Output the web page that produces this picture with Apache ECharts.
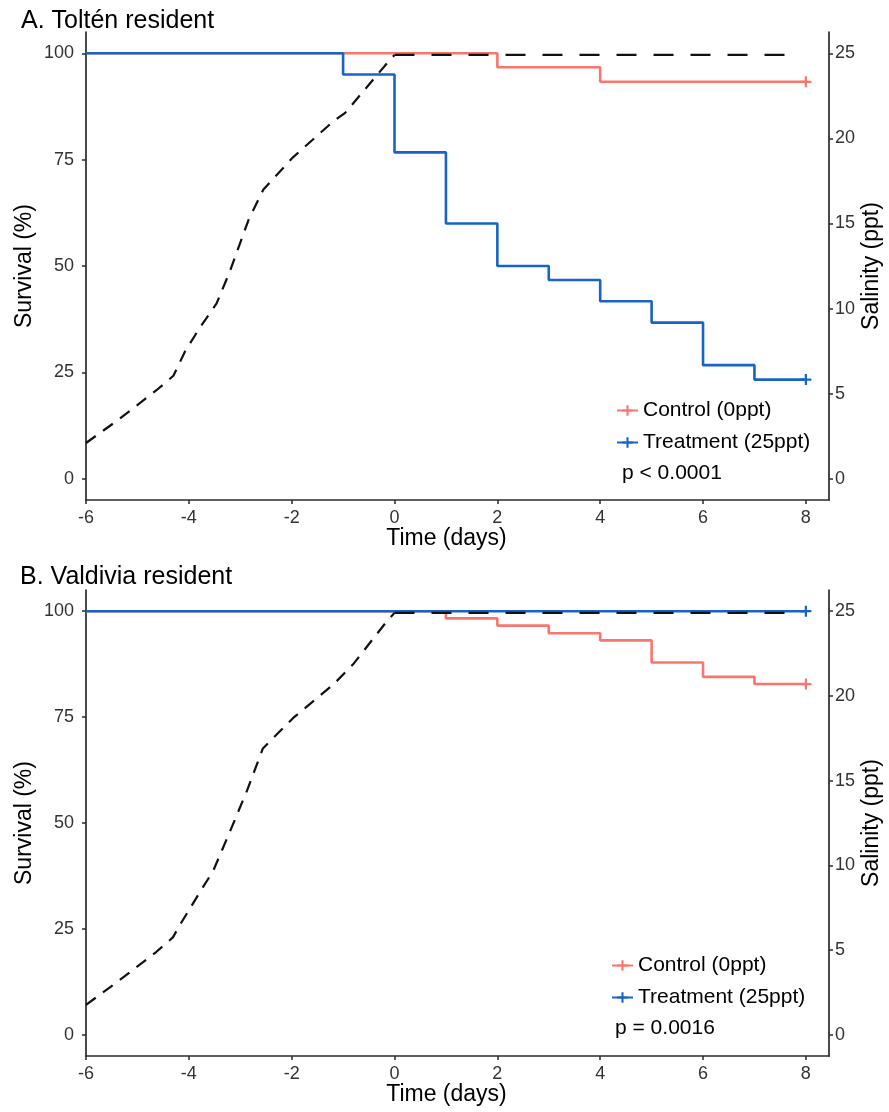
<!DOCTYPE html>
<html>
<head>
<meta charset="utf-8">
<script src="https://cdn.jsdelivr.net/npm/echarts@6/dist/echarts.min.js"></script>
<style>
  html, body { margin: 0; padding: 0; background: #fff; }
  #chart { width: 889px; height: 1112px; }
</style>
</head>
<body>
<div id="chart"></div>
<script>
// ---------- data ----------
const xTicks = [-6, -4, -2, 0, 2, 4, 6, 8];
const survivalTicks = [0, 25, 50, 75, 100];
const salinityTicks = [0, 5, 10, 15, 20, 25];

// Panel A: Toltén resident (Kaplan-Meier steps)
const timeA_control = [-6, 2, 4, 8];
const survA_control = [100, 96.7, 93.3, 93.3];
const timeA_treat = [-6, -1, 0, 1, 2, 3, 4, 5, 6, 7, 8];
const survA_treat = [100, 95, 76.7, 60, 50, 46.7, 41.7, 36.7, 26.7, 23.3, 23.3];

// Panel B: Valdivia resident
const timeB_control = [-6, 1, 2, 3, 4, 5, 6, 7, 8];
const survB_control = [100, 98.3, 96.6, 94.8, 93.1, 87.9, 84.5, 82.8, 82.8];
const timeB_treat = [-6, 8];
const survB_treat = [100, 100];

// Salinity (ppt) curves
const salTimeA = [-6, -5.4, -4.63, -4.3, -4.07, -3.78, -3.46, -3.2, -2.84, -2.55, -1.97, -1.19, -0.96, -0.54, -0.15, 0, 7.9];
const salA     = [2.1, 3.4, 5.2, 6.05, 7.5, 8.9, 10.3, 12.2, 15.2, 17.0, 18.9, 21.0, 21.5, 23.0, 24.4, 24.9, 24.9];
const salTimeB = [-6, -5.4, -4.63, -4.31, -4.17, -3.78, -3.53, -3.2, -2.87, -2.56, -1.97, -1.18, -0.81, -0.15, 0, 7.9];
const salB     = [1.77, 3.1, 4.9, 5.75, 6.5, 8.45, 9.65, 12.0, 14.4, 16.9, 18.7, 20.7, 21.85, 24.4, 24.9, 24.9];

const panelTitles = ['A. Toltén resident', 'B. Valdivia resident'];
const pValues = ['p < 0.0001', 'p = 0.0016'];
const seriesNames = ['Control (0ppt)', 'Treatment (25ppt)'];

// ---------- style ----------
const FONT = '"Liberation Sans", Arial, Helvetica, sans-serif';
const RED = '#F8766D';
const BLUE = '#1763C6';
const AXIS = '#2b2b2b';
const PLUS = 'path://M4,0 H6 V4 H10 V6 H6 V10 H4 V6 H0 V4 H4 Z';

function kmData(t, s) {
  return t.map((x, i) => i === t.length - 1
    ? { value: [x, s[i]], symbolSize: 11 }
    : { value: [x, s[i]] });
}
function pairs(t, s, filterFn) {
  const out = [];
  t.forEach((x, i) => { if (filterFn(x)) out.push([x, s[i]]); });
  return out;
}

const grids = [
  { left: 86, width: 743, top: 32, height: 468, containLabel: false, outerBoundsMode: 'none' },
  { left: 86, width: 743, top: 590, height: 466, containLabel: false, outerBoundsMode: 'none' }
];

const xAxes = [], yAxes = [], series = [];
grids.forEach((g, gi) => {
  xAxes.push({
    type: 'value', gridIndex: gi, min: -6, max: 8.45,
    name: 'Time (days)', nameLocation: 'middle', nameGap: 27, nameMoveOverlap: false,
    nameTextStyle: { fontSize: 23, color: '#000', fontFamily: FONT, padding: [0, 22, 0, 0] },
    axisLine: { onZero: false, lineStyle: { color: AXIS, width: 1.7 } },
    axisTick: { show: true, length: 4, customValues: xTicks, lineStyle: { color: AXIS, width: 1.5 } },
    axisLabel: { customValues: xTicks, fontSize: 18, color: '#333', fontFamily: FONT, margin: 9 },
    splitLine: { show: false }
  });
  yAxes.push({
    type: 'value', gridIndex: gi, position: 'left', min: -5, max: 105,
    name: 'Survival (%)', nameLocation: 'middle', nameGap: 50, nameMoveOverlap: false,
    nameTextStyle: { fontSize: 23, color: '#000', fontFamily: FONT },
    axisLine: { show: true, onZero: false, lineStyle: { color: AXIS, width: 1.7 } },
    axisTick: { show: true, length: 4, customValues: survivalTicks, lineStyle: { color: AXIS, width: 1.5 } },
    axisLabel: { customValues: survivalTicks, fontSize: 18, color: '#333', fontFamily: FONT, margin: 12 },
    splitLine: { show: false }
  });
  yAxes.push({
    type: 'value', gridIndex: gi, position: 'right', min: -1.25, max: 26.25,
    name: 'Salinity (ppt)', nameLocation: 'middle', nameGap: 31, nameMoveOverlap: false,
    nameTextStyle: { fontSize: 23, color: '#000', fontFamily: FONT },
    axisLine: { show: true, onZero: false, lineStyle: { color: AXIS, width: 1.7 } },
    axisTick: { show: true, length: 4, customValues: salinityTicks, lineStyle: { color: AXIS, width: 1.5 } },
    axisLabel: { customValues: salinityTicks, fontSize: 18, color: '#333', fontFamily: FONT, margin: 6 },
    splitLine: { show: false }
  });
});

function kmSeries(name, gi, t, s, color) {
  return {
    name: name, type: 'line', step: 'end', xAxisIndex: gi, yAxisIndex: gi * 2,
    data: kmData(t, s), symbol: PLUS, symbolSize: 0, showSymbol: true,
    lineStyle: { color: color, width: 2.6 }, itemStyle: { color: color },
    silent: true, animation: false
  };
}
function salSeries(gi, t, s, part) {
  const isCurve = part === 'curve';
  return {
    type: 'line', xAxisIndex: gi, yAxisIndex: gi * 2 + 1,
    data: pairs(t, s, isCurve ? (x => x <= 0) : (x => x >= 0)),
    symbol: 'none', silent: true, animation: false,
    lineStyle: { color: '#111', width: 2.2, type: isCurve ? [12, 9] : [20, 17] }
  };
}

series.push(kmSeries(seriesNames[0], 0, timeA_control, survA_control, RED));
series.push(kmSeries(seriesNames[1], 0, timeA_treat, survA_treat, BLUE));
series.push(salSeries(0, salTimeA, salA, 'curve'));
series.push(salSeries(0, salTimeA, salA, 'flat'));
series.push(kmSeries(seriesNames[0], 1, timeB_control, survB_control, RED));
series.push(kmSeries(seriesNames[1], 1, timeB_treat, survB_treat, BLUE));
series.push(salSeries(1, salTimeB, salB, 'curve'));
series.push(salSeries(1, salTimeB, salB, 'flat'));

const legendCommon = {
  orient: 'vertical', selectedMode: false, data: seriesNames,
  itemWidth: 21, itemHeight: 13, itemGap: 11,
  textStyle: { fontSize: 21, color: '#000', fontFamily: FONT, lineHeight: 20 }
};

const option = {
  backgroundColor: '#fff',
  animation: false,
  title: [
    { text: panelTitles[0], left: 21, top: 9, padding: 0,
      textStyle: { fontSize: 25, fontWeight: 'normal', color: '#000', fontFamily: FONT } },
    { text: panelTitles[1], left: 20, top: 565, padding: 0,
      textStyle: { fontSize: 25, fontWeight: 'normal', color: '#000', fontFamily: FONT } }
  ],
  legend: [
    Object.assign({ left: 616, top: 400, padding: 0 }, legendCommon),
    Object.assign({ left: 611, top: 955, padding: 0 }, legendCommon)
  ],
  graphic: [
    { type: 'text', left: 622, top: 463, silent: true,
      style: { text: pValues[0], fontSize: 21, fill: '#000', fontFamily: FONT } },
    { type: 'text', left: 615, top: 1018, silent: true,
      style: { text: pValues[1], fontSize: 21, fill: '#000', fontFamily: FONT } }
  ],
  grid: grids,
  xAxis: xAxes,
  yAxis: yAxes,
  series: series
};

const chart = echarts.init(document.getElementById('chart'), null, { renderer: 'canvas' });
chart.setOption(option);
</script>
</body>
</html>
